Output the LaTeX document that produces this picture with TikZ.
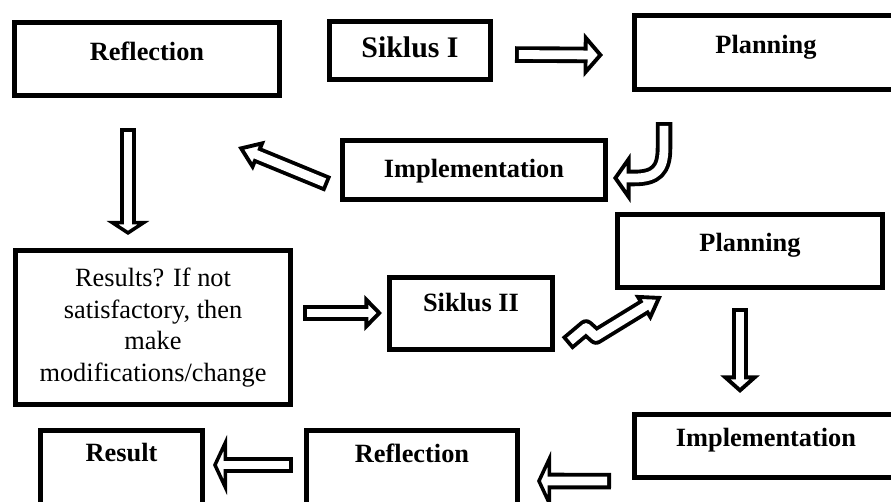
\documentclass[tikz,border=0pt]{standalone}
\usepackage{fontspec}
\setmainfont{Liberation Serif}
\usetikzlibrary{arrows.meta,calc}
\tikzset{
  box/.style={draw,line width=2.6pt,inner sep=0pt,font=\fontsize{15}{18}\selectfont\bfseries},
  lbl/.style={box,text height=11pt,text depth=#1},
  lbl/.default=3pt,
  blkout/.style={line width=9.4pt,line join=round},
  blkin/.style={white,line width=5pt,line join=round,shorten <=2.2pt},
}
% hollow block arrow: head length, head width, path
\newcommand{\blkarrow}[3]{%
  \draw[blkout,-{Triangle[length=#1,width=#2,fill=white,line width'=2.2pt]}] #3;
  \draw[blkin,shorten >=#1-3pt] #3;
}

\begin{document}
\begin{tikzpicture}[x=0.02cm,y=-0.02cm]
  \useasboundingbox (0,0) rectangle (891,501);
  \fill[white] (0,0) rectangle (891,501);
  \clip (0,0) rectangle (891,501);
  % cycle I
  \node[lbl=8.9pt,minimum width=5.31cm,minimum height=1.47cm] (refl1) at (147,59) {Reflection};
  \node[lbl,minimum width=3.23cm,minimum height=1.17cm,font=\fontsize{17}{20}\selectfont\bfseries] (sik1) at (410,50.5) {Siklus I};
  \node[lbl=9.5pt,minimum width=5.27cm,minimum height=1.49cm] (plan1) at (766,52.5) {Planning};
  \node[lbl,minimum width=5.27cm,minimum height=1.19cm] (impl1) at (474,170) {Implementation};
  % cycle II
  \node[box,minimum width=5.51cm,minimum height=3.09cm,align=center,font=\fontsize{15}{18}\selectfont] (res) at (153,327.5)
    {Results? If not\\ satisfactory, then\\ make\\ modifications/change};
  \node[lbl=13pt,minimum width=3.27cm,minimum height=1.45cm] (sik2) at (471,313.5) {Siklus II};
  \node[lbl=10pt,minimum width=5.31cm,minimum height=1.47cm] (plan2) at (750,251) {Planning};
  \node[lbl=10pt,minimum width=5.27cm,minimum height=1.27cm] (impl2) at (766,446) {Implementation};
  \node[lbl=24.6pt,minimum width=4.23cm,minimum height=1.75cm] (refl2) at (412,474) {Reflection};
  \node[lbl=25.7pt,minimum width=3.25cm,minimum height=1.75cm] (result) at (121.5,474) {Result};

  % arrow ends
  \coordinate (a1s) at ($(sik1.east)+(22,4)$);
  \coordinate (a1e) at ($(plan1.west)+(-29,2.5)$);
  \coordinate (j1) at ($(plan1.south)+(-102,30)$);
  \coordinate (j2) at ($(impl1.east)+(5,8)$);
  \coordinate (d1) at ($(impl1.west)+(-12,14)$);
  \coordinate (d2) at ($(refl1.south east)+(-44,49)$);
  \coordinate (v1) at ($(refl1.south)+(-19,30)$);
  \coordinate (v2) at ($(res.north)+(-25,-13)$);
  \coordinate (h1) at ($(res.east)+(10,-14.5)$);
  \coordinate (h2) at ($(sik2.west)+(-5,-0.5)$);
  \coordinate (w1) at ($(sik2.east)+(12,30)$);
  \coordinate (w2) at ($(plan2.south west)+(47,6)$);
  \coordinate (p1) at ($(plan2.south)+(-10,18)$);
  \coordinate (p2) at ($(impl2.north)+(-26,-19)$);
  \coordinate (b1) at ($(impl2.south west)+(-21,1)$);
  \coordinate (b2) at ($(refl2.north east)+(17,53)$);
  \coordinate (c1) at ($(refl2.north west)+(-11,37)$);
  \coordinate (c2) at ($(result.north east)+(8,37)$);

  \blkarrow{11pt}{25pt}{(a1s) -- (a1e)}
  \blkarrow{10pt}{28pt}{(j1) -- ($(j1 |- j2)+(0,-30)$) .. controls ($(j1 |- j2)+(0,-8)$) and ($(j1 |- j2)+(-8,0)$) .. ($(j1 |- j2)+(-30,0)$) -- (j2)}
  \blkarrow{13pt}{18pt}{(d1) -- (d2)}
  \blkarrow{8pt}{24pt}{(v1) -- (v2)}
  \blkarrow{10pt}{20pt}{(h1) -- (h2)}
  \blkarrow{13pt}{17pt}{(w1) -- ++(19,-16) -- ++(10,9) -- (w2)}
  \blkarrow{10pt}{22pt}{(p1) -- (p2)}
  \blkarrow{8pt}{34pt}{(b1) -- (b2)}
  \blkarrow{8pt}{34pt}{(c1) -- (c2)}
\end{tikzpicture}
\end{document}
